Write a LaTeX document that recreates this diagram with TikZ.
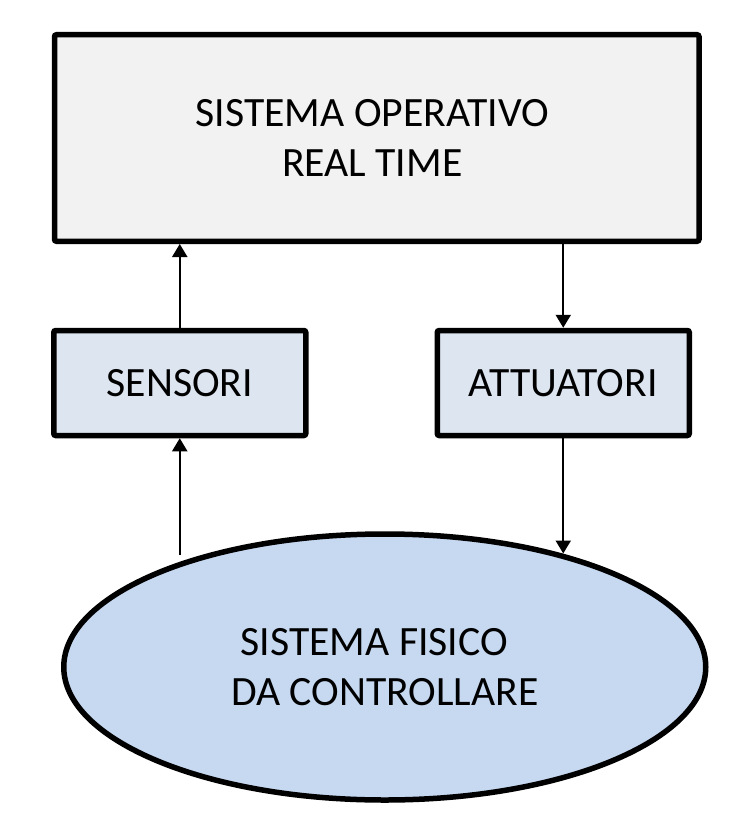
\documentclass[tikz,border=0pt]{standalone}
\usepackage{fontspec}
\setmainfont{Carlito}
\usetikzlibrary{arrows.meta,shapes.geometric}
\definecolor{topfill}{HTML}{F2F2F2}
\definecolor{boxfill}{HTML}{DDE5F0}
\definecolor{ellfill}{HTML}{C6D9F1}
\begin{document}
\begin{tikzpicture}[x=1pt,y=-1pt,
  box/.style={draw=black,line width=5.5pt,rounded corners=2pt,align=center,
    font=\fontsize{41.7}{50}\selectfont,inner sep=0pt},
  arr/.style={line width=2.2pt,-{Triangle[width=15pt,length=13pt]}}]
\useasboundingbox (0,0) rectangle (742,834);
\node[box,fill=topfill,minimum width=644.5pt,minimum height=206.5pt] (os) at (376.75,138)
  {SISTEMA OPERATIVO\hspace*{9pt}\\REAL TIME\hspace*{9pt}};
\node[box,fill=boxfill,minimum width=252pt,minimum height=105pt] (sens) at (179.75,383) {SENSORI};
\node[box,fill=boxfill,minimum width=252pt,minimum height=105pt] (act) at (563.25,383) {ATTUATORI};
\node[ellipse,draw=black,line width=5.5pt,fill=ellfill,minimum width=642pt,minimum height=266pt,
  inner sep=0pt,align=center,font=\fontsize{41.7}{50}\selectfont] (phys) at (384.75,667)
  {SISTEMA FISICO\hspace*{21pt}\\DA CONTROLLARE};
\coordinate (pout) at (sens.south |- 0,555);
\coordinate (pin) at (act.south |- 0,553.5);
\draw[arr] (sens.north) -- (sens.north |- os.south);
\draw[arr] (pout) -- (sens.south);
\draw[arr] (act.north |- os.south) -- (act.north);
\draw[arr] (act.south) -- (pin);
\end{tikzpicture}
\end{document}
